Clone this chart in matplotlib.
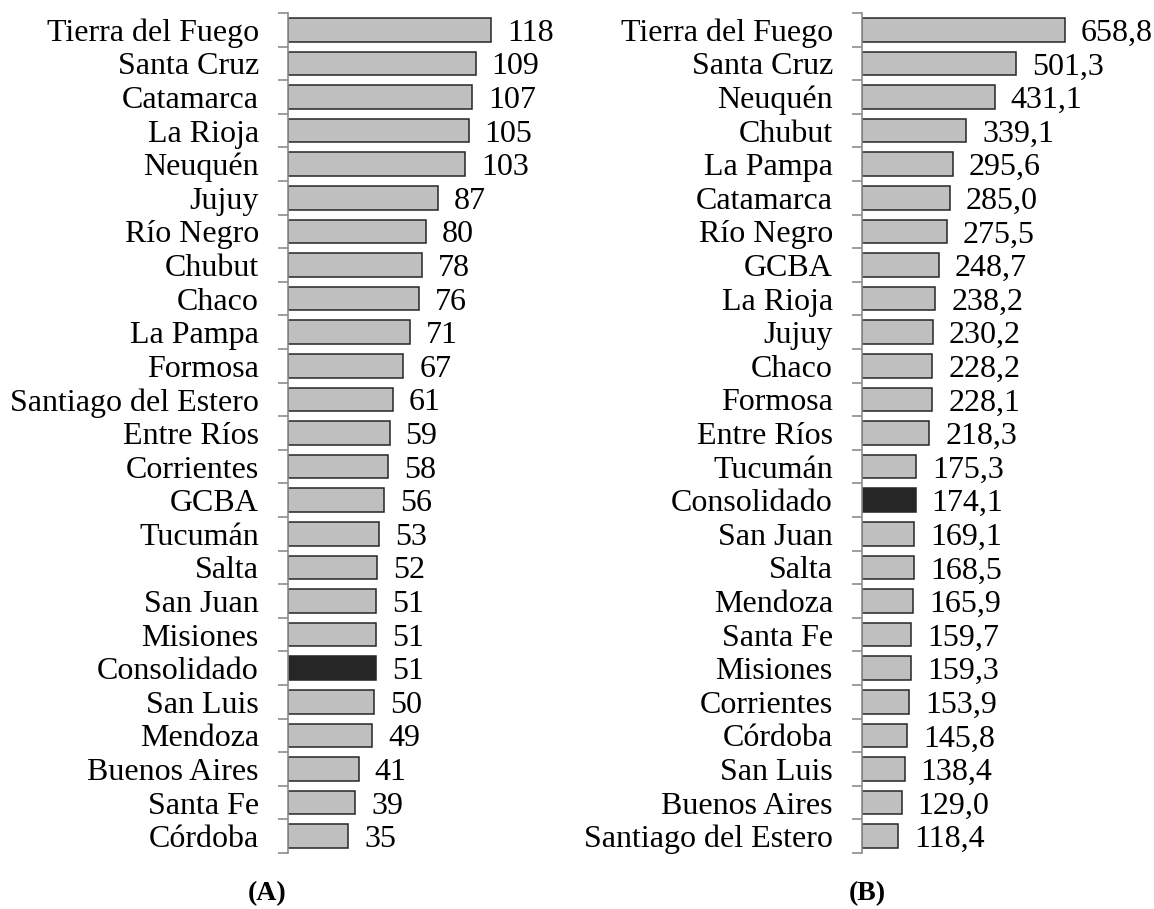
import matplotlib
matplotlib.use("Agg")
import matplotlib.pyplot as plt
import numpy as np

plt.rcParams['font.family'] = ['Liberation Serif', 'DejaVu Serif']

# panel A
prov_a = ['Tierra del Fuego', 'Santa Cruz', 'Catamarca', 'La Rioja', 'Neuquén', 'Jujuy',
          'Río Negro', 'Chubut', 'Chaco', 'La Pampa', 'Formosa', 'Santiago del Estero',
          'Entre Ríos', 'Corrientes', 'GCBA', 'Tucumán', 'Salta', 'San Juan', 'Misiones',
          'Consolidado', 'San Luis', 'Mendoza', 'Buenos Aires', 'Santa Fe', 'Córdoba']
val_a = [118, 109, 107, 105, 103, 87, 80, 78, 76, 71, 67, 61, 59, 58, 56, 53, 52, 51, 51,
         51, 50, 49, 41, 39, 35]

# panel B
prov_b = ['Tierra del Fuego', 'Santa Cruz', 'Neuquén', 'Chubut', 'La Pampa', 'Catamarca',
          'Río Negro', 'GCBA', 'La Rioja', 'Jujuy', 'Chaco', 'Formosa', 'Entre Ríos',
          'Tucumán', 'Consolidado', 'San Juan', 'Salta', 'Mendoza', 'Santa Fe', 'Misiones',
          'Corrientes', 'Córdoba', 'San Luis', 'Buenos Aires', 'Santiago del Estero']
val_b = [658.8, 501.3, 431.1, 339.1, 295.6, 285.0, 275.5, 248.7, 238.2, 230.2, 228.2,
         228.1, 218.3, 175.3, 174.1, 169.1, 168.5, 165.9, 159.7, 159.3, 153.9, 145.8,
         138.4, 129.0, 118.4]

W, H = 1154, 909
fig = plt.figure(figsize=(W / 100, H / 100), dpi=100)

def panel(left_px, names, vals, fmt, tag, tag_x):
    n = len(names)
    top, bot = 13, 853
    ax = fig.add_axes([left_px / W, 1 - bot / H, 272 / W, (bot - top) / H])
    y = np.arange(n)
    cols = ['#262626' if p == 'Consolidado' else '#bfbfbf' for p in names]
    ax.barh(y, vals, height=0.7, color=cols, edgecolor='#262626', linewidth=1.1)
    ax.set_xlim(0, max(vals) * 272 / 203)
    ax.set_ylim(n - 0.5, -0.5)
    for yi, v in zip(y, vals):
        ax.text(v + max(vals) * 16 / 203, yi, fmt(v), va='center_baseline',
                ha='left', fontsize=23)
    ax.set_yticks(y)
    ax.set_yticklabels(names, fontsize=23, va='center_baseline')
    ax.set_yticks(np.arange(n + 1) - 0.5, minor=True)
    ax.tick_params(axis='y', which='major', length=0, pad=21)
    ax.tick_params(axis='y', which='minor', length=7, width=1.2, color='#8c8c8c')
    ax.set_xticks([])
    for s in ['top', 'right', 'bottom']:
        ax.spines[s].set_visible(False)
    ax.spines['left'].set_color('#8c8c8c')
    ax.spines['left'].set_linewidth(1.2)
    fig.text(tag_x / W, 1 - 894 / H, tag, ha='center', va='center', fontsize=20,
             fontweight='bold')

panel(288, prov_a, val_a, lambda v: f'{v:d}', '(A)', 267)
panel(862, prov_b, val_b, lambda v: f'{v:.1f}'.replace('.', ','), '(B)', 867)

fig.savefig('out.png', dpi=100)
